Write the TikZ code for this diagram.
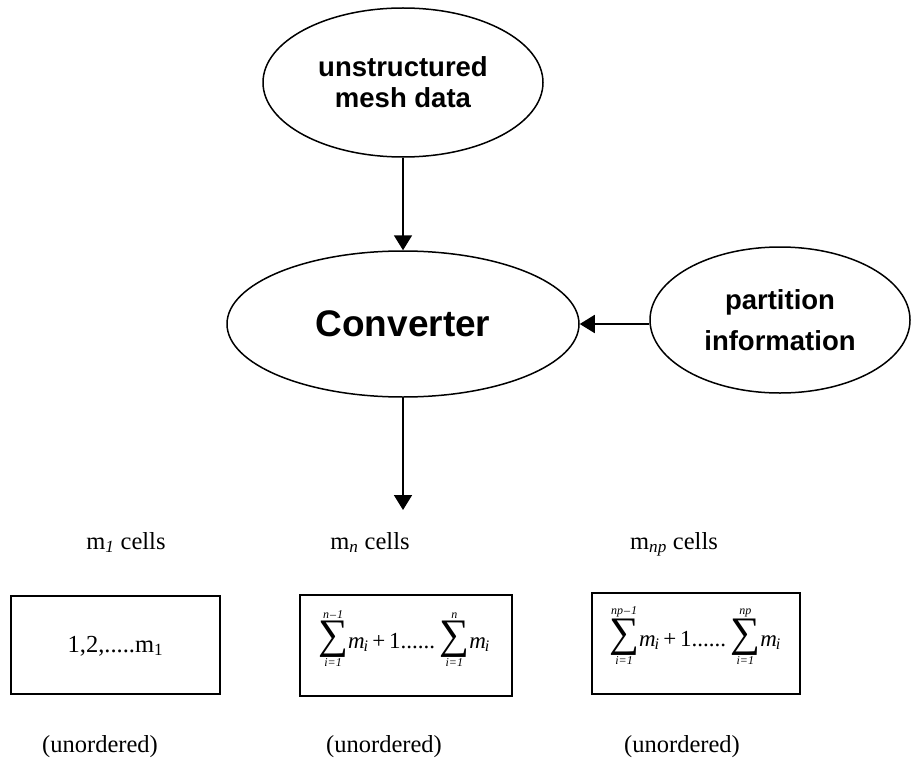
\documentclass[tikz,border=0pt]{standalone}
\usepackage{fontspec}
\setmainfont{Liberation Serif}
\newfontfamily\arialfont{Liberation Sans}
\usetikzlibrary{shapes.geometric,arrows.meta}
\newcommand{\bsum}[2]{\mathop{\hbox{\fontsize{42}{42}\selectfont\char"2211}}\limits_{\hbox{\fontsize{12}{12}\selectfont\itshape #1}}^{\hbox{\fontsize{12}{12}\selectfont\itshape #2}}\!}
\newcommand{\mterm}{\hbox{\itshape m\kern-1pt\textsubscript{i}}}
\begin{document}
\begin{tikzpicture}[x=1pt,y=-1pt,
  ell/.style={draw, ellipse, line width=1.5pt, inner sep=0pt, align=center,
    font=\arialfont\bfseries\fontsize{27.5}{31}\selectfont},
  arr/.style={line width=1.8pt, -{Triangle[length=15pt,width=18pt]}},
  cellbox/.style={draw, line width=2pt, inner sep=0pt},
  lbl/.style={anchor=base, inner sep=0pt, font=\fontsize{24.5}{28}\selectfont},
  formula/.style={inner sep=0pt, anchor=base, font=\fontsize{23}{26}\selectfont}]
\useasboundingbox (0,0) rectangle (912,765);

% ellipses
\node[ell, minimum width=280pt, minimum height=149pt] (mesh) at (403,82.5) {unstructured\\mesh data};
\node[ell, minimum width=352pt, minimum height=146pt,
      font=\arialfont\bfseries\fontsize{37}{40}\selectfont] (conv) at (403,324) {Converter};
\node[ell, minimum width=260pt, minimum height=146pt,
      font=\arialfont\bfseries\fontsize{27.5}{41}\selectfont] (part) at (780,320) {partition\\information};

\coordinate (out) at (403,510);

% connectors
\draw[arr] (mesh.south) -- (conv.north);
\draw[arr] (conv.east -| part.west) -- (conv.east);
\draw[arr] (conv.south) -- (out);

% labels above boxes
\node[lbl] (l1) at (126,549) {m\textsubscript{\textit{1}} cells};
\node[lbl] (l2) at (370,549) {m\textsubscript{\textit{n}} cells};
\node[lbl] (l3) at (674,549) {m\textsubscript{\textit{np}} cells};

% boxes
\node[cellbox, minimum width=209pt, minimum height=98pt] (b1) at (115.5,645) {};
\node[cellbox, minimum width=212pt, minimum height=101pt] (b2) at (406,645.5) {};
\node[cellbox, minimum width=208pt, minimum height=101pt] (b3) at (696,643.5) {};

\node[lbl] (t1) at (115.5,652) {1,2,.....m\textsubscript{1}};
\node[formula] (t2) at (404,648) {$\bsum{i=1}{n\kern1pt--\kern1pt1}\mterm\hbox{\,+\,1......}\bsum{i=1}{n}\mterm$};
\node[formula] (t3) at (695,646) {$\bsum{i=1}{np\kern1pt--\kern1pt1}\mterm\hbox{\,+\,1......}\bsum{i=1}{np}\mterm$};

% labels below boxes
\node[lbl] (u1) at (100,752) {(unordered)};
\node[lbl] (u2) at (384,752) {(unordered)};
\node[lbl] (u3) at (682,752) {(unordered)};
\end{tikzpicture}
\end{document}
